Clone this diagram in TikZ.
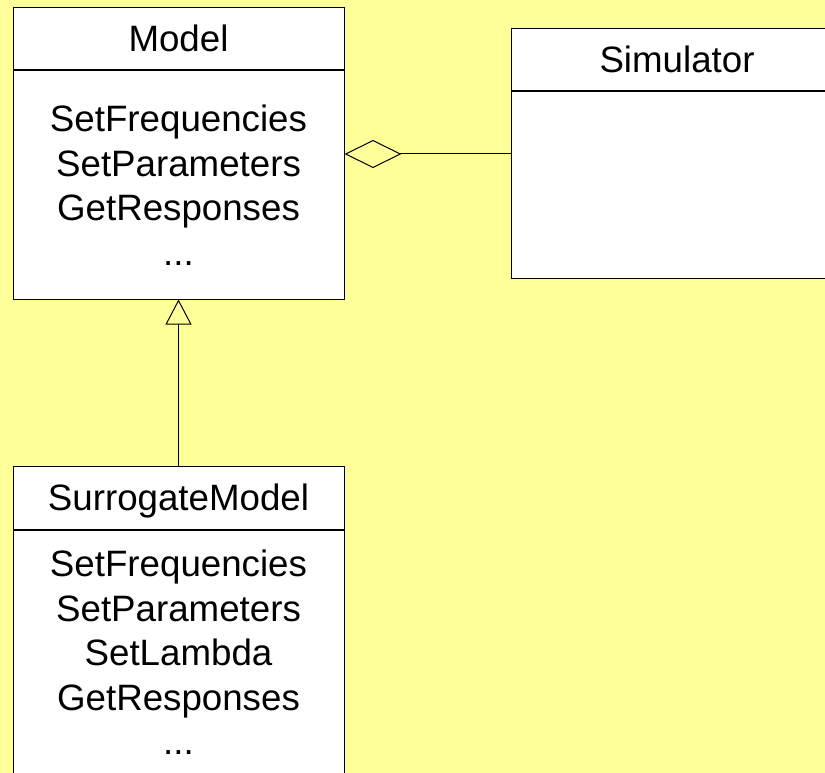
\documentclass[tikz,border=0pt]{standalone}
\usepackage{fontspec}
\setmainfont{Liberation Sans}
\usepackage{xcolor}
\usetikzlibrary{positioning,shapes,arrows,arrows.meta}
\definecolor{bgyellow}{HTML}{FFFF99}

\begin{document}
\begin{tikzpicture}[x=1pt,y=1pt]
\tikzstyle{every node}+=[inner sep=0pt]
\tikzstyle{hdr}=[draw=black,line width=1pt,fill=white,minimum width=331pt,minimum height=62pt,text height=26pt,text depth=0pt,font=\fontsize{36.7}{44.5}\selectfont]
\tikzstyle{ops}=[draw=black,line width=1pt,fill=white,minimum width=331pt,align=center,font=\fontsize{36.7}{44.5}\selectfont]
\tikzstyle{aggr}=[line width=1pt,-{Diamond[open,length=57pt,width=28pt]}]
\tikzstyle{inherit}=[line width=1pt,-{Triangle[open,length=25pt,width=26pt]}]
\useasboundingbox (0,0) rectangle (825,-773);
\clip (0,0) rectangle (825,-773);
\fill [bgyellow] (0,0) rectangle (825,-773);
% classes
\node [hdr] (model) at (178.5,-39) {Model};
\node [ops,minimum height=228pt,below=0pt of model] (modelops) {SetFrequencies\\SetParameters\\GetResponses\\...};
\node [hdr,minimum width=332pt,right=166pt of model,yshift=-21pt] (sim) {Simulator};
\node [ops,minimum width=332pt,minimum height=186pt,below=0pt of sim] (simops) {};
\node [hdr,minimum height=63pt,below=166pt of modelops] (surr) {SurrogateModel};
\node [ops,inner ysep=20pt,text depth=80pt,below=0pt of surr] (surrops) {SetFrequencies\\SetParameters\\SetLambda\\GetResponses\\...};
% relations
\draw [aggr] ([yshift=31pt]simops.west) -- ([yshift=31pt]modelops.east);
\draw [inherit] (surr.north) -- (modelops.south);
\end{tikzpicture}
\end{document}
